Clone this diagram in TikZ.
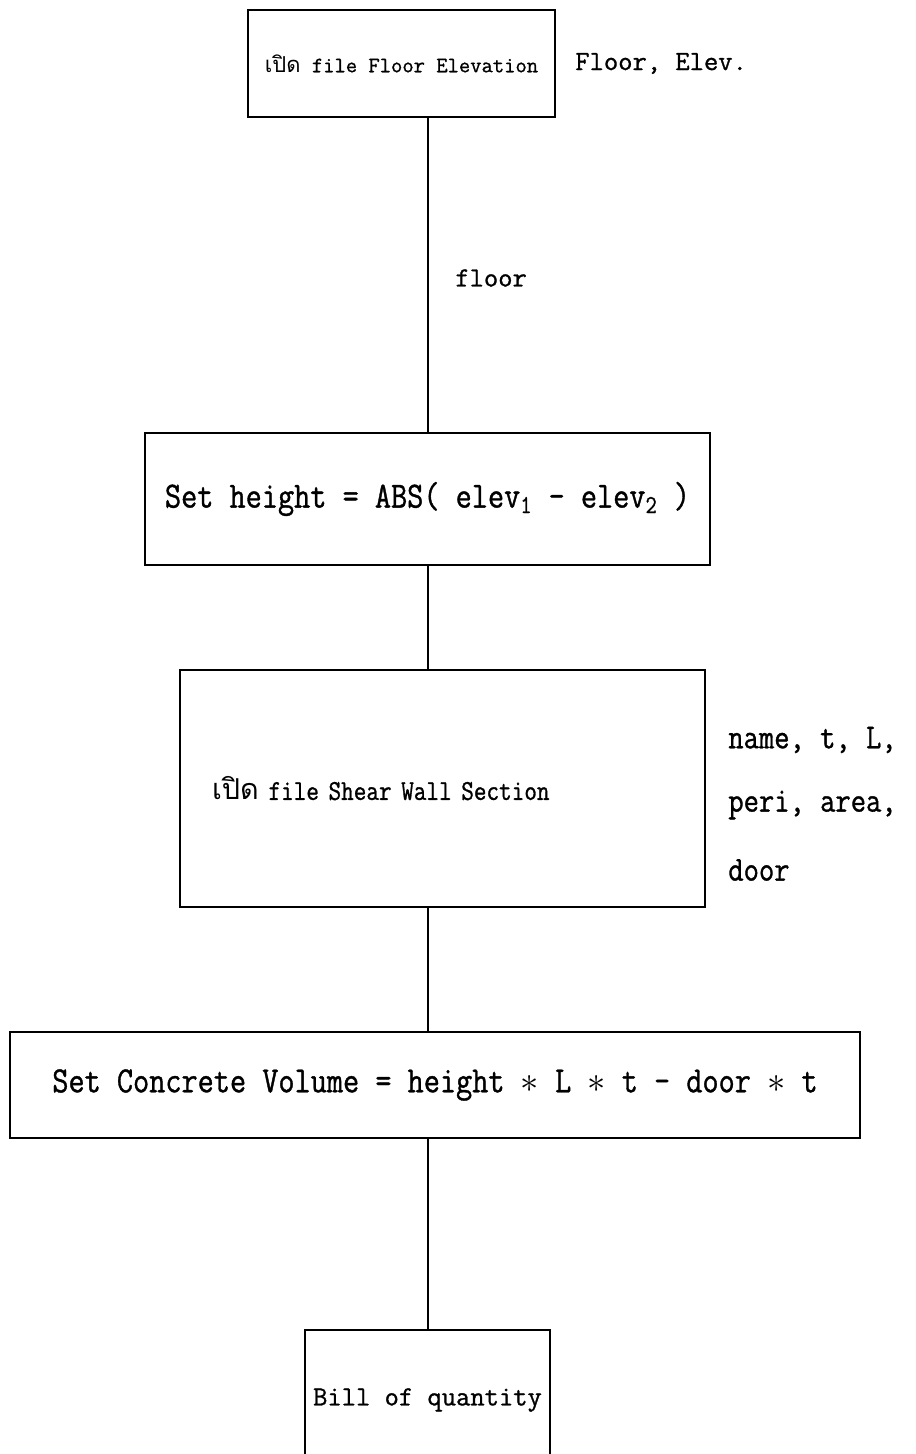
\documentclass[tikz,border=0pt]{standalone}
\usepackage{fontspec}
\newfontfamily\thaifont[Script=Thai]{Loma}
\newfontfamily\typefont[FakeBold=1]{Latin Modern Mono}
\newfontfamily\narrowfont[FakeStretch=0.85,FakeBold=1]{Latin Modern Mono}
\usetikzlibrary{positioning,calc}
\tikzset{
  box/.style={draw, line width=1.1pt, rectangle, align=center, inner sep=0pt},
  link/.style={line width=1.1pt},
  note/.style={anchor=west, inner sep=0pt, align=left},
  plainfont/.style={font=\typefont\fontsize{15.8}{18}\selectfont},
  tallfont/.style={font=\narrowfont\fontsize{19.9}{23}\selectfont}
}

\begin{document}
\begin{tikzpicture}[x=0.02cm, y=-0.02cm]
    \useasboundingbox (0,0) rectangle (916,1454);
    \coordinate (spine) at (428,0);
    \node[box, minimum width=6.14cm, minimum height=2.14cm, font=\typefont\fontsize{12.5}{15}\selectfont] (openfloor) at (401.5,63.5) {{\thaifont เปิด} file Floor Elevation};
    \node[note, plainfont] (floorvars) at (575,63.5) {Floor, Elev.};
    \node[note, plainfont] (floorlbl) at (455,278) {floor};
    \node[box, minimum width=11.3cm, minimum height=2.64cm, font=\narrowfont\fontsize{21}{24}\selectfont] (setheight) at (427.5,499) {Set height = ABS( elev\textsubscript{1} - elev\textsubscript{2} )};
    \node[box, minimum height=4.74cm, text width=9.22cm, inner xsep=0.64cm, align=left, font=\narrowfont\fontsize{16.4}{19}\selectfont] (openwall) at (442.5,788.5) {{\thaifont เปิด} file Shear Wall Section};
    \node[note, tallfont] (wallvars1) at (728,740) {name, t, L,};
    \node[note, tallfont] (wallvars2) at (728,805) {peri, area,};
    \node[note, tallfont] (wallvars3) at (728,870) {door};
    \node[box, minimum width=17cm, minimum height=2.12cm, font=\narrowfont\fontsize{21}{24}\selectfont] (setvolume) at (435,1085) {Set Concrete Volume = height $\ast$ L $\ast$ t - door $\ast$ t};
    \node[box, minimum width=4.9cm, minimum height=2.8cm, plainfont] (bill) at (427.5,1400) {Bill of quantity};
    \foreach \a/\b in {openfloor/setheight,setheight/openwall,openwall/setvolume,setvolume/bill}{\draw[link] (\a.south -| spine) -- (\b.north -| spine);}
\end{tikzpicture}
\end{document}
